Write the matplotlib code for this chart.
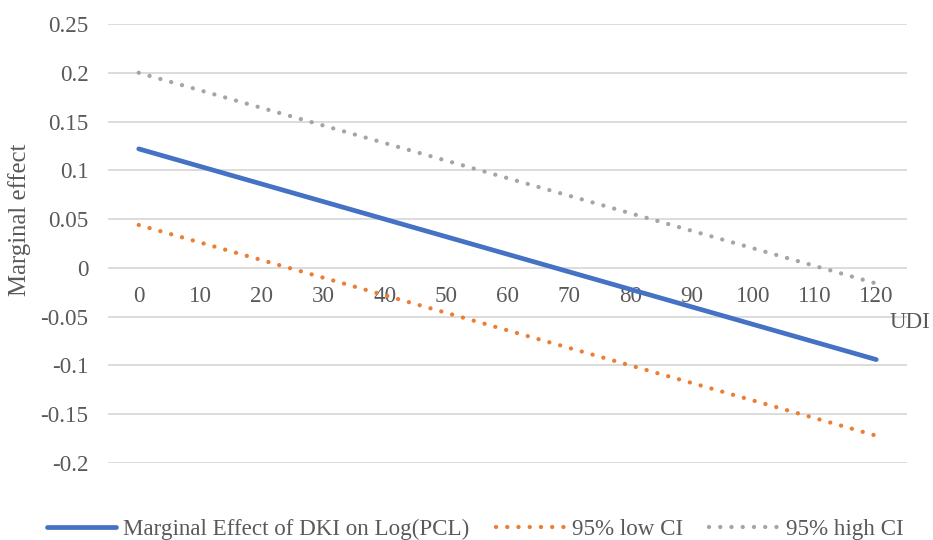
import matplotlib.pyplot as plt

# values
udi = [0, 10, 20, 30, 40, 50, 60, 70, 80, 90, 100, 110, 120]
marginal = [0.122, 0.104, 0.086, 0.068, 0.050, 0.032, 0.014, -0.004, -0.022, -0.040, -0.058, -0.076, -0.094]
low_ci = [0.044, 0.026, 0.008, -0.010, -0.028, -0.046, -0.064, -0.082, -0.100, -0.118, -0.136, -0.154, -0.172]
high_ci = [0.200, 0.182, 0.164, 0.146, 0.128, 0.110, 0.092, 0.074, 0.056, 0.038, 0.020, 0.002, -0.016]
y_ticks = [-0.2, -0.15, -0.1, -0.05, 0, 0.05, 0.1, 0.15, 0.2, 0.25]
y_labels = ['-0.2', '-0.15', '-0.1', '-0.05', '0', '0.05', '0.1', '0.15', '0.2', '0.25']

plt.rcParams['font.family'] = ['Liberation Serif', 'DejaVu Serif']
text_col = '#595959'
fs = 16.6

fig = plt.figure(figsize=(9.33, 5.4), dpi=100)
ax = fig.add_axes([108 / 933, 1 - 463 / 540, 799 / 933, 439 / 540])

dot = (0, (0.01, 2.6))
ax.plot(udi, marginal, color='#4472C4', lw=3.4, solid_capstyle='round',
        label='Marginal Effect of DKI on Log(PCL)', zorder=3)
ax.plot(udi, low_ci, color='#ED7D31', lw=3.1, linestyle=dot, dash_capstyle='round',
        label='95% low CI', zorder=3)
ax.plot(udi, high_ci, color='#A5A5A5', lw=3.1, linestyle=dot, dash_capstyle='round',
        label='95% high CI', zorder=3)

ax.set_xlim(-5, 125)
ax.set_ylim(-0.2, 0.25)
ax.set_yticks(y_ticks)
ax.set_yticklabels(y_labels)
ax.set_xticks(udi)
ax.set_xticklabels([str(v) for v in udi])
ax.grid(axis='y', color='#d9d9d9', lw=1.3)
ax.set_axisbelow(True)

for s in ['top', 'right', 'left']:
    ax.spines[s].set_visible(False)
ax.spines['bottom'].set_position(('data', 0))
ax.spines['bottom'].set_visible(False)
ax.tick_params(axis='both', length=0, labelsize=fs, labelcolor=text_col)
ax.tick_params(axis='y', pad=14)
ax.tick_params(axis='x', pad=13)

fig.text(20 / 933, 1 - 220 / 540, 'Marginal effect', rotation=90, ha='center', va='center',
         fontsize=fs + 1.2, color=text_col)
fig.text(890 / 933, 1 - 323 / 540, 'UDI', ha='left', va='center', fontsize=fs, color=text_col)

leg = fig.legend(loc='center', bbox_to_anchor=(475 / 933, 1 - 529 / 540), ncol=3, frameon=False,
                 fontsize=fs, handlelength=3.0, handletextpad=0.3, columnspacing=1.15)
for t in leg.get_texts():
    t.set_color(text_col)

fig.savefig('out.png', dpi=100)
